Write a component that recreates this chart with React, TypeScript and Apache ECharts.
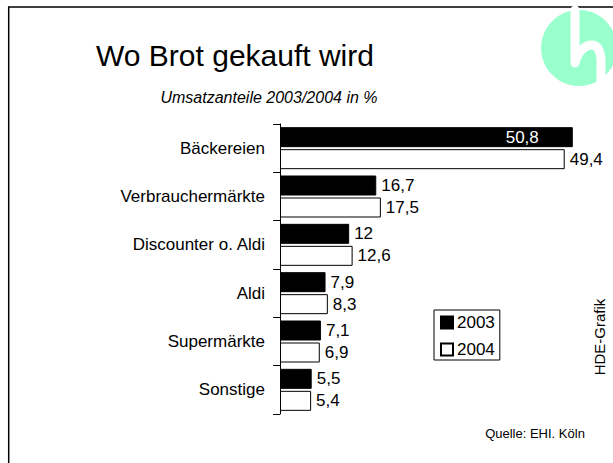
import React, { useEffect, useRef } from "react";
import * as echarts from "echarts";

const categories = ["Bäckereien", "Verbrauchermärkte", "Discounter o. Aldi", "Aldi", "Supermärkte", "Sonstige"];
const values2003 = [50.8, 16.7, 12, 7.9, 7.1, 5.5];
const values2004 = [49.4, 17.5, 12.6, 8.3, 6.9, 5.4];
const seriesNames = ["2003", "2004"];

const FONT = "'Liberation Sans', Arial, sans-serif";
const fmt = (v: number) => String(v).replace(".", ",");

export default function App() {
  const ref = useRef<HTMLDivElement>(null);
  useEffect(() => {
    if (!ref.current) return;
    const chart = echarts.init(ref.current, null, { renderer: "svg" });
    const logoD = "M575,10 L575,60 M575,63 C578,50 586,45 592,45 C598,45 601,52 601,62 L601,90";
    echarts.graphic.registerShape("logo", echarts.graphic.extendPath(logoD, {}) as any);
    chart.setOption({
      animation: false,
      backgroundColor: "#fff",
      textStyle: { fontFamily: FONT },
      grid: { left: 280, top: 124, width: 317, height: 290, containLabel: false },
      xAxis: { type: "value", min: 0, max: 55, show: false, splitLine: { show: false } },
      yAxis: {
        type: "category",
        data: categories,
        inverse: true,
        axisLine: { show: true, lineStyle: { color: "#000", width: 1 } },
        axisTick: { show: true, length: 7, lineStyle: { color: "#000" } },
        axisLabel: { color: "#000", fontSize: 17, fontFamily: FONT, margin: 15 },
      },
      legend: {
        orient: "vertical",
        left: 434,
        top: 310,
        data: seriesNames,
        icon: "rect",
        itemWidth: 12,
        itemHeight: 12,
        itemGap: 10,
        padding: [4, 5, 2, 6],
        borderColor: "#000",
        borderWidth: 1,
        textStyle: { fontSize: 17, color: "#000", fontFamily: FONT, padding: [0, 0, 0, -1] },
      },
      series: [
        {
          name: seriesNames[0],
          type: "bar",
          data: values2003.map((v, i) =>
            i === 0
              ? { value: v, label: { position: "insideRight", color: "#fff", offset: [-29, 0] } }
              : v
          ),
          barWidth: 20,
          barGap: "10%",
          itemStyle: { color: "#000", borderColor: "#000", borderWidth: 1 },
          label: {
            show: true,
            position: "right",
            distance: 5,
            fontSize: 17,
            color: "#000",
            fontFamily: FONT,
            formatter: (p: any) => fmt(p.value),
          },
        },
        {
          name: seriesNames[1],
          type: "bar",
          data: values2004,
          barWidth: 20,
          barGap: "10%",
          itemStyle: { color: "#fff", borderColor: "#000", borderWidth: 1 },
          label: {
            show: true,
            position: "right",
            distance: 5,
            fontSize: 17,
            color: "#000",
            fontFamily: FONT,
            formatter: (p: any) => fmt(p.value),
          },
        },
      ],
      graphic: [
        {
          type: "rect",
          shape: { x: 8.7, y: 7, width: 700, height: 600 },
          style: { fill: "none", stroke: "#000", lineWidth: 1.5 },
          silent: true,
        },
        {
          type: "circle",
          shape: { cx: 579, cy: 48, r: 38 },
          style: { fill: "#99FFCC" },
          silent: true,
        },
        {
          type: "logo",
          x: 0,
          y: 0,
          style: { fill: "none", stroke: "#fff", lineWidth: 9, lineCap: "round" },
          silent: true,
        },
        {
          type: "text",
          x: 235,
          y: 55,
          style: { text: "Wo Brot gekauft wird", fontSize: 30, fontFamily: FONT, fill: "#000", align: "center", verticalAlign: "middle" },
        },
        {
          type: "text",
          x: 269,
          y: 97,
          style: { text: "Umsatzanteile 2003/2004 in %", fontSize: 16, fontStyle: "italic", fontFamily: FONT, fill: "#000", align: "center", verticalAlign: "middle" },
        },
        {
          type: "text",
          x: 535,
          y: 433,
          style: { text: "Quelle: EHI. Köln", fontSize: 13, fontFamily: FONT, fill: "#000", align: "center", verticalAlign: "middle" },
        },
        {
          type: "text",
          x: 599,
          y: 337,
          rotation: Math.PI / 2,
          style: { text: "HDE-Grafik", fontSize: 15, fontFamily: FONT, fill: "#000", align: "center", verticalAlign: "middle" },
        },
      ],
    });
    return () => chart.dispose();
  }, []);
  return <div ref={ref} style={{ position: "fixed", left: 0, top: 0, width: 613, height: 463 }} />;
}
